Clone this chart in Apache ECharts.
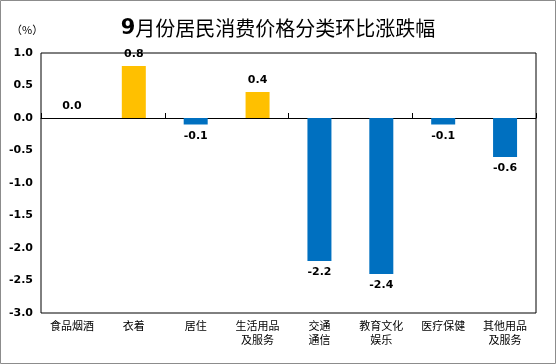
<!DOCTYPE html>
<html><head><meta charset="utf-8">
<script src="https://cdn.jsdelivr.net/npm/echarts@6/dist/echarts.min.js"></script>
<style>html,body{margin:0;padding:0;background:#fff}#c{width:556px;height:364px}</style>
</head><body><div id="c"></div>
<script>
var categories = ['食品烟酒','衣着','居住','生活用品\n及服务','交通\n通信','教育文化\n娱乐','医疗保健','其他用品\n及服务'];
var values = [0.0, 0.8, -0.1, 0.4, -2.2, -2.4, -0.1, -0.6];
var yTicks = [-3.0, -2.5, -2.0, -1.5, -1.0, -0.5, 0.0, 0.5, 1.0];
var chart = echarts.init(document.getElementById('c'), null, {renderer:'canvas'});
var cjk = '"DejaVu Sans","Noto Sans CJK SC",sans-serif';
chart.setOption({
  animation:false,
  textStyle:{fontFamily:cjk},
  title:{
    text:'{b|9}{n|月份居民消费价格分类环比涨跌幅}',
    left:'center', top:13,
    textStyle:{rich:{
      b:{fontSize:21,fontWeight:'bold',fontFamily:cjk,color:'#000'},
      n:{fontSize:20,fontWeight:'normal',fontFamily:'"Noto Sans CJK SC",sans-serif',color:'#000'}
    }}
  },
  graphic:[
    {type:'rect',shape:{x:0.5,y:0.5,width:555,height:363},style:{fill:'none',stroke:'#8c8c8c',lineWidth:1},silent:true,z:100},
    {type:'text',left:11,top:24,style:{text:'（%）',font:'11px "Noto Sans CJK SC",sans-serif',fill:'#000'}}
  ],
  grid:{left:41,right:20,top:53,bottom:51,show:true,borderColor:'#000',borderWidth:1,backgroundColor:'transparent'},
  xAxis:[{
    type:'category',data:categories,position:'bottom',
    axisLine:{show:false,onZero:false},axisTick:{show:false},
    axisLabel:{interval:0,color:'#000',fontSize:11,lineHeight:14,fontFamily:'"Noto Sans CJK SC",sans-serif',margin:6},
    splitLine:{show:false}
  },{
    type:'category',data:categories,position:'bottom',
    axisLine:{show:true,onZero:true,lineStyle:{color:'#000',width:1}},
    axisTick:{show:true,inside:true,length:5,lineStyle:{color:'#000'}},
    axisLabel:{show:false},splitLine:{show:false}
  }],
  yAxis:{
    type:'value',min:yTicks[0],max:yTicks[yTicks.length-1],interval:0.5,
    axisLine:{show:false},axisTick:{show:false},splitLine:{show:false},
    axisLabel:{color:'#000',fontSize:11,fontWeight:'bold',fontFamily:'"DejaVu Sans",sans-serif',margin:8,
      formatter:function(v){return v.toFixed(1);}}
  },
  series:[{
    type:'bar',xAxisIndex:0,barWidth:24,
    data:values.map(function(v){
      return {value:v,
        itemStyle:{color:v>0?'#FFC000':'#0070C0'},
        label:{position:v<0?'bottom':'top'}};
    }),
    label:{show:true,color:'#000',fontSize:11,fontWeight:'bold',fontFamily:'"DejaVu Sans",sans-serif',
      distance:6,formatter:function(p){return p.value.toFixed(1);}}
  }]
});
</script></body></html>
